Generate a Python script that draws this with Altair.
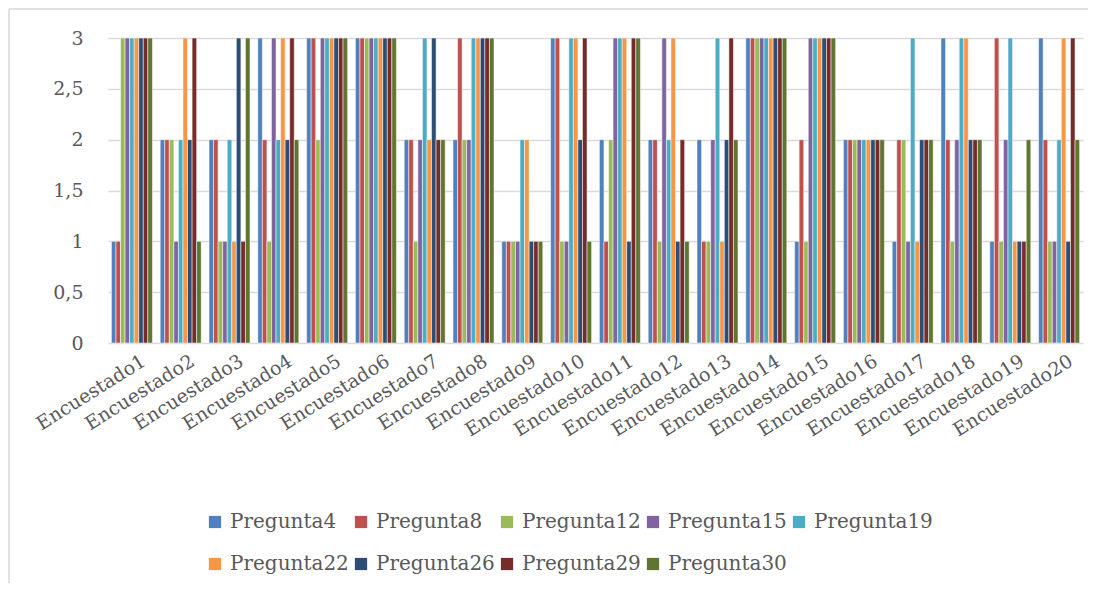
import altair as alt
import pandas as pd

encuestados = [f"Encuestado{i}" for i in range(1, 21)]
preguntas = ["Pregunta4", "Pregunta8", "Pregunta12", "Pregunta15", "Pregunta19",
             "Pregunta22", "Pregunta26", "Pregunta29", "Pregunta30"]

p4 = [1, 2, 2, 3, 3, 3, 2, 2, 1, 3, 2, 2, 2, 3, 1, 2, 1, 3, 1, 3]
p8 = [1, 2, 2, 2, 3, 3, 2, 3, 1, 3, 1, 2, 1, 3, 2, 2, 2, 2, 3, 2]
p12 = [3, 2, 1, 1, 2, 3, 1, 2, 1, 1, 2, 1, 1, 3, 1, 2, 2, 1, 1, 1]
p15 = [3, 1, 1, 3, 3, 3, 2, 2, 1, 1, 3, 3, 2, 3, 3, 2, 1, 2, 2, 1]
p19 = [3, 2, 2, 2, 3, 3, 3, 3, 2, 3, 3, 2, 3, 3, 3, 2, 3, 3, 3, 2]
p22 = [3, 3, 1, 3, 3, 3, 2, 3, 2, 3, 3, 3, 1, 3, 3, 2, 1, 3, 1, 3]
p26 = [3, 2, 3, 2, 3, 3, 3, 3, 1, 2, 1, 1, 2, 3, 3, 2, 2, 2, 1, 1]
p29 = [3, 3, 1, 3, 3, 3, 2, 3, 1, 3, 3, 2, 3, 3, 3, 2, 2, 2, 1, 3]
p30 = [3, 1, 3, 2, 3, 3, 2, 3, 1, 1, 3, 1, 2, 3, 3, 2, 2, 2, 2, 2]

series = [p4, p8, p12, p15, p19, p22, p26, p29, p30]
colores = ["#4F81BD", "#C0504D", "#9BBB59", "#8064A2", "#4BACC6",
           "#F79646", "#2C4D75", "#772C2A", "#5F7530"]
y_ticks = [0, 0.5, 1, 1.5, 2, 2.5, 3]

rows = []
for name, vals in zip(preguntas, series):
    for enc, v in zip(encuestados, vals):
        rows.append({"Encuestado": enc, "Pregunta": name, "Valor": v})
df = pd.DataFrame(rows)

FONT = "DejaVu Serif"
TXT = "#595959"

bars = alt.Chart(df).mark_bar(stroke="white", strokeWidth=0.5).encode(
    x=alt.X("Encuestado:N", sort=encuestados,
            scale=alt.Scale(paddingInner=0.16, paddingOuter=0.07),
            axis=alt.Axis(title=None, labelAngle=-32, labelAlign="right",
                          labelBaseline="middle", labelPadding=16, labelOffset=12,
                          ticks=False, domain=False, labelFont=FONT,
                          labelFontSize=19, labelColor=TXT, labelOverlap=False)),
    xOffset=alt.XOffset("Pregunta:N", sort=preguntas,
                        scale=alt.Scale(paddingInner=0.0)),
    y=alt.Y("Valor:Q", scale=alt.Scale(domain=[0, 3], nice=False),
            axis=alt.Axis(title=None, values=y_ticks, ticks=False, domain=False,
                          labelFont=FONT, labelFontSize=19, labelColor=TXT,
                          labelPadding=25, gridColor="#d9d9d9", gridWidth=1.5,
                          labelExpr="replace(format(datum.value, ''), '.', ',')")),
    color=alt.Color("Pregunta:N", sort=preguntas,
                    scale=alt.Scale(domain=preguntas, range=colores),
                    legend=alt.Legend(title=None, orient="none", legendX=97,
                                      legendY=474, direction="horizontal",
                                      columns=5, symbolType="square",
                                      symbolSize=150, symbolStrokeWidth=0,
                                      labelFont=FONT, labelFontSize=20,
                                      labelColor=TXT, labelOffset=5,
                                      columnPadding=2, rowPadding=22,
                                      padding=0)),
)

frame_df = pd.DataFrame({"k": [0]})
left_line = alt.Chart(frame_df).mark_rule(color="#d9d9d9", strokeWidth=1.5).encode(
    x=alt.value(-99), y=alt.value(-29), y2=alt.value(800))
top_line = alt.Chart(frame_df).mark_rule(color="#d9d9d9", strokeWidth=1.5).encode(
    x=alt.value(-99), x2=alt.value(1200), y=alt.value(-29))

chart = alt.layer(left_line, top_line, bars).properties(
    width=975, height=305,
    padding={"left": 100, "top": 30, "right": 5, "bottom": 240},
    autosize=alt.AutoSizeParams(type="none"),
    background="white",
).configure_view(stroke=None)

chart.save("out.html", embed_options={"renderer": "svg", "actions": False})
